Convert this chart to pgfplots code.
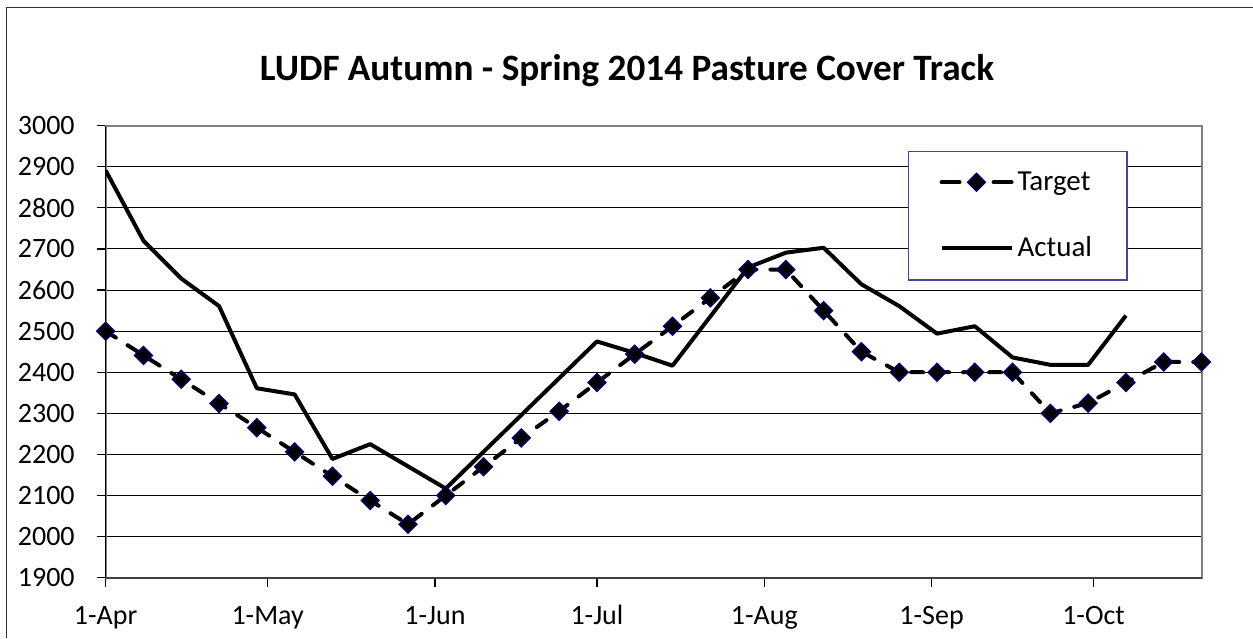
\documentclass[border=0pt]{standalone}
\usepackage{fontspec}
\setmainfont{Carlito}
\usepackage{pgfplots}
\pgfplotsset{compat=1.18}
\definecolor{legblue}{RGB}{70,70,160}
\definecolor{navymk}{RGB}{0,0,128}
\pgfplotsset{
  targetimg/.style={legend image code/.code={\draw[mark repeat=2, mark phase=2, ##1, dash pattern=on 9pt off 17pt] plot coordinates {(0pt,0pt)(17.5pt,0pt)(35pt,0pt)};}},
  actualimg/.style={legend image code/.code={\draw[##1] (0pt,0pt) -- (35pt,0pt);}},
}
\begin{document}
\begin{tikzpicture}
\path[use as bounding box] (-52.85pt,-30.15pt) rectangle (573.65pt,288.85pt);
\draw[line width=0.75pt, black!80] (-49.6pt,-30.15pt) -- (-49.6pt,285.1pt) -- (573.65pt,285.1pt);
\node[font=\fontsize{18.6}{22}\selectfont\bfseries] at (260.65pt,253.3pt) {LUDF Autumn - Spring 2014 Pasture Cover Track};
\begin{axis}[
  at={(0pt,0pt)}, anchor=south west, scale only axis,
  width=547.9pt, height=226pt,
  xmin=0, xmax=203, ymin=1900, ymax=3000,
  xtick={0,30,61,91,122,153,183},
  xticklabels={1-Apr,1-May,1-Jun,1-Jul,1-Aug,1-Sep,1-Oct},
  ytick={1900,2000,...,3000},
  tick align=outside, major tick length=4.5pt, tick pos=left,
  tick style={black, line width=0.6pt},
  ymajorgrids, grid style={black, line width=0.5pt},
  axis line style={black!50, line width=1pt},
  /pgf/number format/assume math mode=true,
  /pgf/number format/1000 sep={},
  ticklabel style={font=\fontsize{14}{17}\selectfont},
  yticklabel style={xshift=-7.5pt},
  xticklabel style={yshift=-8.5pt, text height=0.7em, text depth=0.25em},
  legend style={at={(0.732,0.9447)}, anchor=north west, draw=legblue, line width=0.75pt,
    font=\fontsize{14.5}{17}\selectfont, inner xsep=15.5pt, inner ysep=8pt, row sep=17.8pt},
  legend cell align=left,
  after end axis/.code={
    \draw[black, line width=0.65pt] (rel axis cs:0,0) -- (rel axis cs:0,1);
    \draw[black!75, line width=1pt] (rel axis cs:0,0) -- (rel axis cs:1,0);
  },
]
\addplot[black, line width=2pt, dash pattern=on 6pt off 7pt, line cap=round,
  mark=square*, mark size=3.2pt,
  mark options={solid, rotate=45, fill=black, draw=navymk, line width=0.6pt},
  targetimg]
coordinates {
(0,2500)(7,2441)(14,2383)(21,2324)(28,2265)(35,2206)(42,2147)(49,2088)(56,2030)
(63,2100)(70,2170)(77,2240)(84,2305)(91,2375)(98,2444)(105,2512)(112,2581)(119,2650)
(126,2650)(133,2550)(140,2450)(147,2400)(154,2400)(161,2400)(168,2400)(175,2300)
(182,2325)(189,2375)(196,2425)(203,2425)
};
\addlegendentry{Target}
\addplot[black, line width=2pt, line join=round, mark=none, actualimg]
coordinates {
(0,2891)(7,2720)(14,2628)(21,2561)(28,2361)(35,2346)(42,2189)(49,2225)
(63,2117)(91,2475)(98,2447)(105,2416)(119,2655)(126,2691)(133,2703)(140,2614)
(147,2561)(154,2494)(161,2512)(168,2436)(175,2418)(182,2418)(189,2538)
};
\addlegendentry{Actual}
\end{axis}
\end{tikzpicture}
\end{document}
